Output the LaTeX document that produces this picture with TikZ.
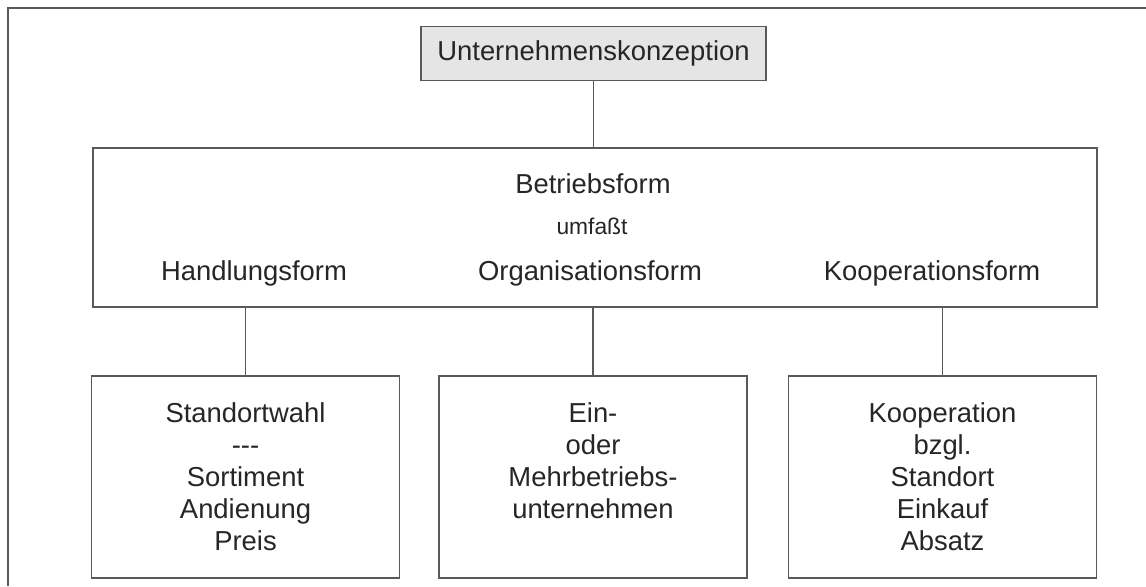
\documentclass[tikz,border=0pt]{standalone}
\usepackage{fontspec}
\setmainfont{Liberation Sans}
\usetikzlibrary{positioning}
\tikzset{
  line/.style={draw=black!65, line width=0.6pt},
  box/.style={line, rectangle, inner sep=0pt},
  lbl/.style={text=black!85, font=\fontsize{13.7}{16}\selectfont, inner sep=0pt},
  small/.style={text=black!85, font=\fontsize{11.4}{14}\selectfont, inner sep=0pt},
  lowbox/.style={box, minimum width=154pt, minimum height=101pt},
}
\begin{document}
\begin{tikzpicture}[x=0.5pt, y=-0.5pt]
        \useasboundingbox (0,0) rectangle (1146,586);
        \fill[white] (0,0) rectangle (1146,586);
        \draw[line] (1146,8) -- (8,8) -- (8,586);
        \node[box, lbl, fill=black!10, minimum width=172.5pt, minimum height=27pt] (konz) at (593.5,53.5) {Unternehmenskonzeption};
        \node[box, minimum width=502pt, minimum height=79.5pt] (betrieb) at (595,227.5) {};
        \node[lbl, anchor=base] (betriebsform) at (593,193) {Betriebsform};
        \node[small, anchor=base] (umfasst) at (592,234) {umfaßt};
        \node[lbl, anchor=base] (handlung) at (254,280) {Handlungsform};
        \node[lbl, anchor=base] (organisation) at (590,280) {Organisationsform};
        \node[lbl, anchor=base] (kooperation) at (932,280) {Kooperationsform};
        \node[lowbox] (hand) at (245.5,477) {};
        \node[lowbox] (orga) at (593,477) {};
        \node[lowbox] (koop) at (942.5,477) {};
        \node[lbl, align=center, anchor=north] (hand-text) at (245.5,402) {Standortwahl\\-{}-{}-\\Sortiment\\Andienung\\Preis};
        \node[lbl, align=center, anchor=north] (orga-text) at (593,402) {Ein-\\oder\\Mehrbetriebs-\\unternehmen};
        \node[lbl, align=center, anchor=north] (koop-text) at (942.5,402) {Kooperation\\bzgl.\\Standort\\Einkauf\\Absatz};
        \draw[line] (konz.south) -- (konz.south |- betrieb.north);
        \draw[line] (hand.north |- betrieb.south) -- (hand.north);
        \draw[line] (orga.north |- betrieb.south) -- (orga.north);
        \draw[line] (koop.north |- betrieb.south) -- (koop.north);
\end{tikzpicture}
\end{document}
